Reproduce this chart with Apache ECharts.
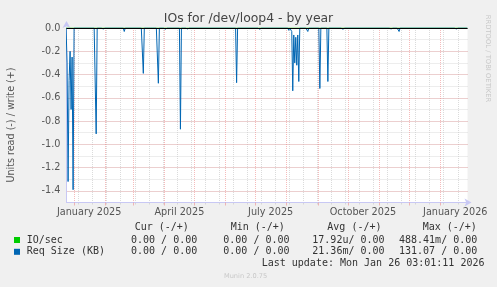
<!DOCTYPE html>
<html><head><meta charset="utf-8">
<script src="https://cdn.jsdelivr.net/npm/echarts@6/dist/echarts.min.js"></script>
<style>html,body{margin:0;padding:0;background:#f0f0f0;}#c{width:497px;height:287px;}</style>
</head><body><div id="c"></div>
<script>
// ---- data ----
const chartTitle = 'IOs for /dev/loop4 - by year';
const yAxisTitle = 'Units read (-) / write (+)';
const rangeStart = '2024-12-24T10:00:00';
const rangeEnd = '2026-01-28T05:00:00';
const quarterLabelDates = ['2025-01-16', '2025-04-16', '2025-07-16', '2025-10-16', '2026-01-16'];
const quarterLabelTexts = ['January 2025', 'April 2025', 'July 2025', 'October 2025', 'January 2026'];
const monthStartDates = ['2025-01-01', '2025-02-01', '2025-03-01', '2025-04-01', '2025-05-01', '2025-06-01',
  '2025-07-01', '2025-08-01', '2025-09-01', '2025-10-01', '2025-11-01', '2025-12-01', '2026-01-01'];
const minorGridDates = ['2025-01-05T12:00', '2025-01-19T12:00', '2025-02-02T12:00', '2025-02-16T12:00',
  '2025-03-02T12:00', '2025-03-16T12:00', '2025-03-30T12:00', '2025-04-13T12:00', '2025-04-27T12:00',
  '2025-05-11T12:00', '2025-05-25T12:00', '2025-06-08T12:00', '2025-06-22T12:00', '2025-07-06T12:00',
  '2025-07-20T12:00', '2025-08-03T12:00', '2025-08-17T12:00', '2025-08-31T12:00', '2025-09-14T12:00',
  '2025-09-28T12:00', '2025-10-12T12:00', '2025-10-26T12:00', '2025-11-09T12:00', '2025-11-23T12:00',
  '2025-12-07T12:00', '2025-12-21T12:00', '2026-01-04T12:00', '2026-01-18T12:00'];
const yLabelValues = [0, -0.2, -0.4, -0.6, -0.8, -1.0, -1.2, -1.4];
const yMin = -1.5, yMax = 0;

// Req Size (KB), read side (drawn negative): days with non-zero daily average
const reqReadDates = ['2024-12-25', '2024-12-26', '2024-12-27', '2024-12-28', '2024-12-29', '2024-12-30', '2024-12-31',
  '2025-01-08', '2025-01-12', '2025-01-23', '2025-01-30', '2025-02-20', '2025-02-28', '2025-03-08', '2025-03-11',
  '2025-03-26', '2025-03-28', '2025-04-02', '2025-04-17', '2025-04-24', '2025-05-07', '2025-05-17', '2025-06-02',
  '2025-06-12', '2025-07-05', '2025-07-20', '2025-08-03', '2025-08-06', '2025-08-07', '2025-08-08', '2025-08-09',
  '2025-08-10', '2025-08-11', '2025-08-12', '2025-08-13', '2025-08-22', '2025-09-03', '2025-09-11', '2025-09-26',
  '2025-11-08', '2025-11-13', '2025-11-21', '2025-12-05', '2025-12-13', '2026-01-17'];
const reqReadValues = [-0.30, -1.32, -0.45, -0.20, -0.70, -0.25, -1.39,
  -0.012, -0.01, -0.91, -0.008, -0.03, -0.01, -0.012, -0.39,
  -0.475, -0.01, -0.01, -0.87, -0.008, -0.01, -0.006, -0.008,
  -0.47, -0.01, -0.008, -0.02, -0.03, -0.54, -0.06, -0.30,
  -0.08, -0.32, -0.06, -0.46, -0.03, -0.52, -0.46, -0.01,
  -0.01, -0.008, -0.03, -0.008, -0.008, -0.008];
// IO/sec read side: invisible at this scale (daily averages ~ 0)
const ioReadDates = [];
const ioReadValues = [];

const legendRows = [
  { name: 'IO/sec', color: '#00cc00', cur: '0.00 / 0.00', min: '0.00 / 0.00', avg: '17.92u/ 0.00', max: '488.41m/ 0.00' },
  { name: 'Req Size (KB)', color: '#0066b3', cur: '0.00 / 0.00', min: '0.00 / 0.00', avg: '21.36m/ 0.00', max: '131.07 / 0.00' }
];
const lastUpdate = 'Last update: Mon Jan 26 03:01:11 2026';

// ---- build ----
const t = s => new Date(s.length === 10 ? s + 'T00:00:00' : s).getTime();
function dailySeries(dates, values) {
  const map = {};
  dates.forEach((d, i) => { map[t(d)] = values[i]; });
  const out = [];
  const first = new Date(t(rangeStart)); first.setHours(0, 0, 0, 0);
  for (let d = new Date(first); d.getTime() <= t(rangeEnd); d.setDate(d.getDate() + 1)) {
    const k = d.getTime();
    out.push([k, map[k] !== undefined ? map[k] : 0]);
  }
  return out;
}

const chart = echarts.init(document.getElementById('c'), null, { renderer: 'canvas' });
const gridColorMajor = 'rgba(235,120,120,0.5)';
const gridColorMinor = 'rgba(200,200,200,0.65)';
const axisColor = '#c8c8f4';
const sans = '"DejaVu Sans", sans-serif';
const mono = '"DejaVu Sans Mono", monospace';
const textCol = '#333';

const graphics = [
  { type: 'text', x: 248.5, y: 19, style: { text: chartTitle, font: '12.4px ' + sans, fill: '#444', align: 'center', verticalAlign: 'middle' } },
  { type: 'text', x: 11, y: 125, rotation: Math.PI / 2, style: { text: yAxisTitle, font: '9.6px ' + sans, fill: '#555', align: 'center', verticalAlign: 'middle' } },
  { type: 'text', x: 487.5, y: 58.5, rotation: -Math.PI / 2, style: { text: 'RRDTOOL / TOBI OETIKER', font: '6.8px ' + sans, fill: '#c8c8c8', align: 'center', verticalAlign: 'middle' } },
  { type: 'text', x: 224, y: 276, style: { text: 'Munin 2.0.75', font: '6.6px ' + sans, fill: '#c8c8c8', align: 'left', verticalAlign: 'middle' } },
  { type: 'text', x: 134.7, y: 227.3, style: { text: 'Cur (-/+)', font: '10px ' + mono, fill: textCol, verticalAlign: 'middle' } },
  { type: 'text', x: 230.7, y: 227.3, style: { text: 'Min (-/+)', font: '10px ' + mono, fill: textCol, verticalAlign: 'middle' } },
  { type: 'text', x: 327.3, y: 227.3, style: { text: 'Avg (-/+)', font: '10px ' + mono, fill: textCol, verticalAlign: 'middle' } },
  { type: 'text', x: 422.7, y: 227.3, style: { text: 'Max (-/+)', font: '10px ' + mono, fill: textCol, verticalAlign: 'middle' } },
  { type: 'text', x: 261.7, y: 263.5, style: { text: lastUpdate, font: '10px ' + mono, fill: textCol, verticalAlign: 'middle' } }
];
legendRows.forEach((r, i) => {
  const y = 240 + i * 11.8;
  graphics.push({ type: 'rect', shape: { x: 14, y: y - 3, width: 6, height: 6 }, style: { fill: r.color } });
  graphics.push({ type: 'text', x: 26.7, y, style: { text: r.name, font: '10px ' + mono, fill: textCol, verticalAlign: 'middle' } });
  graphics.push({ type: 'text', x: 131, y, style: { text: r.cur, font: '10px ' + mono, fill: textCol, verticalAlign: 'middle' } });
  graphics.push({ type: 'text', x: 223.3, y, style: { text: r.min, font: '10px ' + mono, fill: textCol, verticalAlign: 'middle' } });
  graphics.push({ type: 'text', x: 312.3, y, style: { text: r.avg, font: '10px ' + mono, fill: textCol, verticalAlign: 'middle' } });
  graphics.push({ type: 'text', x: 399, y, style: { text: r.max, font: '10px ' + mono, fill: textCol, verticalAlign: 'middle' } });
});

const labelTs = quarterLabelDates.map(t);
const option = {
  backgroundColor: '#f0f0f0',
  animation: false,
  grid: { left: 66.5, top: 28, right: 29.5, bottom: 84.5, show: true, backgroundColor: '#ffffff', borderWidth: 0, containLabel: false, outerBoundsMode: 'none' },
  xAxis: [
    {
      type: 'value', min: t(rangeStart), max: t(rangeEnd), position: 'bottom', z: 1,
      axisLine: { show: true, onZero: false, lineStyle: { color: axisColor, width: 1 }, symbol: ['none', 'arrow'], symbolSize: [6, 7], symbolOffset: [0, 4] },
      axisTick: { show: true, length: 3, customValues: monthStartDates.map(t), lineStyle: { color: gridColorMajor } },
      axisLabel: { show: true, customValues: labelTs, margin: 5, fontFamily: sans, fontSize: 9.7, color: '#555',
        showMinLabel: true, showMaxLabel: true, hideOverlap: false,
        formatter: v => { const i = labelTs.indexOf(v); return i >= 0 ? quarterLabelTexts[i] : ''; } },
      splitLine: { show: true, lineStyle: { color: gridColorMajor, type: [1, 1], width: 1 } }
    },
    {
      type: 'value', min: t(rangeStart), max: t(rangeEnd), position: 'bottom', z: 0,
      axisLine: { show: false, onZero: false },
      axisTick: { show: true, length: 2, customValues: minorGridDates.map(t), lineStyle: { color: gridColorMinor } },
      axisLabel: { show: false },
      splitLine: { show: true, lineStyle: { color: gridColorMinor, type: [1, 1], width: 1 } }
    }
  ],
  yAxis: [
    {
      type: 'value', min: yMin, max: yMax, z: 1,
      axisLine: { show: true, onZero: false, lineStyle: { color: axisColor, width: 1 }, symbol: ['none', 'arrow'], symbolSize: [6, 7], symbolOffset: [0, 7] },
      axisTick: { show: false, customValues: yLabelValues },
      axisLabel: { customValues: yLabelValues, margin: 6, fontFamily: sans, fontSize: 9.7, color: '#555', formatter: v => v.toFixed(1) },
      splitLine: { show: true, lineStyle: { color: gridColorMajor, type: [1, 1], width: 1 } }
    },
    {
      type: 'value', min: yMin, max: yMax, interval: 0.1, z: 0,
      axisLine: { show: false }, axisTick: { show: false }, axisLabel: { show: false },
      splitLine: { show: true, lineStyle: { color: gridColorMinor, type: [1, 1], width: 1 } }
    }
  ],
  series: [
    {
      name: 'IO/sec', type: 'line', xAxisIndex: 0, yAxisIndex: 0, showSymbol: false, symbol: 'none',
      data: dailySeries(ioReadDates, ioReadValues), lineStyle: { color: '#00cc00', width: 1 }, z: 2
    },
    {
      name: 'Req Size (KB)', type: 'line', xAxisIndex: 0, yAxisIndex: 0, showSymbol: false, symbol: 'none',
      data: dailySeries(reqReadDates, reqReadValues), lineStyle: { color: '#0066b3', width: 1 }, z: 3,
      markLine: { silent: true, symbol: ['none', 'none'], label: { show: false }, lineStyle: { color: '#000', type: 'solid', width: 1 }, data: [{ yAxis: 0 }] }
    }
  ],
  graphic: graphics
};
chart.setOption(option);
</script></body></html>
